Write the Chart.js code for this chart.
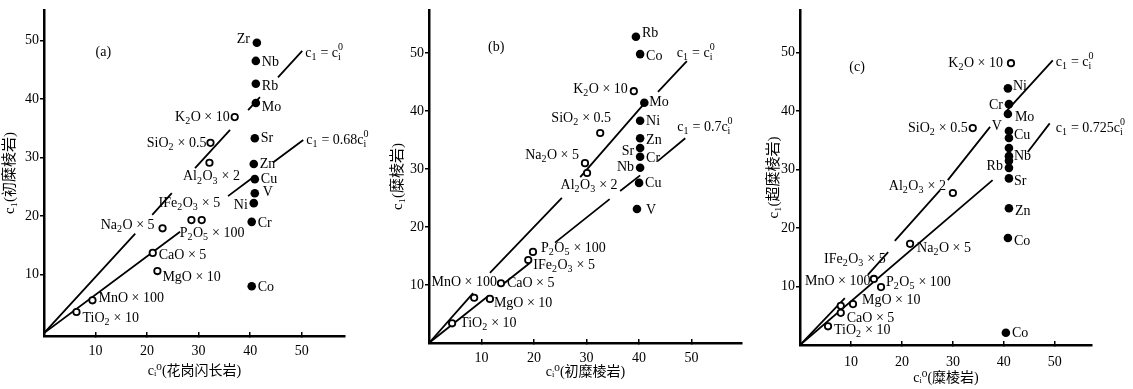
<!DOCTYPE html>
<html>
<head>
<meta charset="utf-8">
<script src="https://cdn.jsdelivr.net/npm/chart.js@4.4.1/dist/chart.umd.min.js"></script>
<style>
  html, body { margin: 0; padding: 0; background: #fff; }
  body { width: 1133px; height: 389px; position: relative; overflow: hidden; }
  .panel { position: absolute; top: 0; height: 389px; }
</style>
</head>
<body>
<div class="panel" style="left:0;width:380px"><canvas id="chartA"></canvas></div>
<div class="panel" style="left:380px;width:380px"><canvas id="chartB"></canvas></div>
<div class="panel" style="left:760px;width:373px"><canvas id="chartC"></canvas></div>
<script>
// tick labels (same on every panel)
const xTicks = [10, 20, 30, 40, 50];
const yTicks = [10, 20, 30, 40, 50];

// (a) granodiorite -> protomylonite
const aElemName = ['Zr', 'Nb', 'Rb', 'Mo', 'Sr', 'Zn', 'Cu', 'V', 'Ni', 'Cr', 'Co'];
const aElemX = [41.3, 41.1, 41.1, 41.1, 40.9, 40.7, 40.9, 40.9, 40.7, 40.3, 40.3];
const aElemY = [49.6, 46.5, 42.6, 39.3, 33.3, 28.9, 26.3, 23.9, 22.2, 19.0, 8.0];
const aOxName = ['K_2O × 10', 'SiO_2 × 0.5', 'Al_2O_3 × 2', 'IFe_2O_3 × 5', 'P_2O_5 × 100',
  'Na_2O × 5', 'CaO × 5', 'MgO × 10', 'MnO × 100', 'TiO_2 × 10'];
const aOxX = [37.0, 32.3, 32.1, 28.6, 30.6, 23.0, 21.1, 22.0, 9.4, 6.3];
const aOxY = [36.9, 32.5, 29.1, 19.3, 19.3, 17.9, 13.7, 10.6, 5.6, 3.6];
// reference lines, null = break where the printed line stops at a label
const aIsoX = [0, 17.7, null, 21.0, 24.8, null, 29.3, 36.1, null, 39.6, 41.9, null, 45.4, 50.1];
const aIsoY = [0, 17.0, null, 20.2, 23.9, null, 28.2, 34.7, null, 38.1, 40.3, null, 43.7, 48.2];
const aLossX = [0, 26.4, null, 35.7, 40.4, null, 44.5, 50.3];
const aLossY = [0, 17.3, null, 23.4, 26.5, null, 29.2, 33.0];

// (b) protomylonite -> mylonite
const bElemName = ['Rb', 'Co', 'Mo', 'Ni', 'Zn', 'Sr', 'Cr', 'Nb', 'Cu', 'V'];
const bElemX = [39.4, 40.2, 41.0, 40.2, 40.2, 40.2, 40.2, 40.2, 40.0, 39.6];
const bElemY = [52.8, 49.8, 41.4, 38.3, 35.3, 33.6, 32.1, 30.2, 27.6, 23.1];
const bOxName = ['K_2O × 10', 'SiO_2 × 0.5', 'Na_2O × 5', 'Al_2O_3 × 2', 'P_2O_5 × 100',
  'IFe_2O_3 × 5', 'CaO × 5', 'MnO × 100', 'MgO × 10', 'TiO_2 × 10'];
const bOxX = [39.0, 32.6, 29.7, 30.1, 19.8, 18.9, 13.7, 8.6, 11.6, 4.4];
const bOxY = [43.4, 36.2, 31.0, 29.3, 15.7, 14.3, 10.3, 7.8, 7.6, 3.4];
const bIsoX = [0, 8.4, null, 11.6, 25.3, null, 28.8, 41.1, null, 43.6, 49.1];
const bIsoY = [0, 8.6, null, 12.1, 25.0, null, 28.6, 41.4, null, 43.3, 48.6];
const bLossX = [0, 11.4, null, 14.2, 19.2, null, 24.0, 34.4, null, 36.4, 40.2, null, 43.6, 48.8];
const bLossY = [0, 8.2, null, 10.2, 13.8, null, 17.3, 24.8, null, 26.2, 28.9, null, 31.4, 35.3];

// (c) mylonite -> ultramylonite
const cElemName = ['Ni', 'Cr', 'Mo', 'V', 'Cu', '', 'Nb', '', 'Rb', 'Sr', 'Zn', 'Co', 'Co'];
const cElemX = [40.8, 41.0, 40.8, 41.0, 41.0, 41.0, 41.0, 41.0, 41.0, 41.0, 41.0, 40.8, 40.4];
const cElemY = [43.9, 41.2, 39.5, 36.6, 35.4, 33.7, 32.3, 31.5, 30.3, 28.5, 23.4, 18.3, 2.1];
const cOxName = ['K_2O × 10', 'SiO_2 × 0.5', 'Al_2O_3 × 2', 'Na_2O × 5', 'IFe_2O_3 × 5',
  'P_2O_5 × 100', 'MgO × 10', 'MnO × 100', 'CaO × 5', 'TiO_2 × 10'];
const cOxX = [41.4, 33.9, 30.0, 21.6, 14.5, 15.9, 10.4, 8.0, 8.0, 5.5];
const cOxY = [48.2, 37.1, 26.0, 17.3, 11.3, 9.9, 7.0, 6.7, 5.5, 3.2];
const cIsoX = [0, 8.8, null, 13.3, 17.3, null, 18.6, 27.5, null, 29.0, 37.3, null, 40.2, 49.6];
const cIsoY = [0, 8.0, null, 12.0, 15.9, null, 17.8, 26.5, null, 28.2, 37.3, null, 39.7, 48.7];
const cLossX = [0, 37.8, null, 44.7, 49.0];
const cLossY = [0, 28.2, null, 33.0, 37.9];

// label placement: [align, dx, dy] in pixels from the point
const aElemPos = [['end', -7, -3], ['start', 6, 1], ['start', 6, 3], ['start', 6, 4], ['start', 6, 0],
  ['start', 6, 0], ['start', 6, 0], ['start', 8, -1], ['end', -6, 2], ['start', 6, 1], ['start', 6, 1]];
const aOxPos = [['end', -5, 0], ['end', -4, 0], ['center', 2, 14], ['center', -2, -17], ['start', -22, 13],
  ['end', -8, -3], ['start', 6, 2], ['start', 5, 6], ['start', 6, -2], ['start', 6, 6]];
const bElemPos = [['start', 6, -3], ['start', 6, 2], ['start', 5, 0], ['start', 6, 1], ['start', 6, 2],
  ['end', -6, 3], ['start', 6, 2], ['end', -6, 0], ['start', 6, 0], ['start', 9, 1]];
const bOxPos = [['end', -6, -2], ['center', -19, -15], ['end', -6, -8], ['center', 2, 12], ['start', 8, -4],
  ['start', 5, 5], ['start', 6, 0], ['center', -10, -15], ['start', 4, 4], ['start', 8, 0]];
const cElemPos = [['start', 5, -2], ['end', -6, 1], ['start', 7, 3], ['end', -7, -5], ['start', 5, -3],
  ['start', 5, 0], ['start', 5, 0], ['start', 5, 0], ['end', -6, -2], ['start', 5, 3], ['start', 6, 3],
  ['start', 6, 3], ['start', 6, 1]];
const cOxPos = [['end', -8, 0], ['end', -5, 0], ['end', -7, -7], ['start', 7, 4], ['center', -19, -20],
  ['start', 5, -5], ['start', 9, -4], ['center', -3, -25], ['start', 6, 5], ['start', 6, 4]];

const SERIF = '"Liberation Serif", "DejaVu Serif", serif';
const TITLE_FONT = '"Liberation Serif", "Noto Sans CJK SC", "DejaVu Serif", serif';

const zip = (xs, ys) => xs.map((x, i) => ({ x, y: ys[i] }));

// split "K_2O" / "c^0_i" into plain runs and sub/superscript slots
function richSegs(str) {
  const segs = [];
  for (let i = 0; i < str.length; i++) {
    const ch = str[i];
    if ((ch === '_' || ch === '^') && i + 1 < str.length) {
      const key = ch === '_' ? 'sub' : 'sup';
      const c = str[++i];
      const last = segs[segs.length - 1];
      if (last && last.script && last[key] === undefined) last[key] = c;
      else segs.push({ script: true, [key]: c });
    } else {
      const last = segs[segs.length - 1];
      if (last && !last.script) last.text += ch;
      else segs.push({ text: ch });
    }
  }
  return segs;
}

function drawRich(ctx, str, x, y, align, size) {
  const big = size + 'px ' + SERIF;
  const small = Math.round(size * 0.68) + 'px ' + SERIF;
  const segs = richSegs(str);
  const widths = segs.map(s => {
    if (s.script) {
      ctx.font = small;
      return Math.max(s.sub ? ctx.measureText(s.sub).width : 0, s.sup ? ctx.measureText(s.sup).width : 0) + 0.5;
    }
    ctx.font = big;
    return ctx.measureText(s.text).width;
  });
  const total = widths.reduce((a, b) => a + b, 0);
  let cx = align === 'end' ? x - total : align === 'center' ? x - total / 2 : x;
  ctx.textAlign = 'left';
  ctx.textBaseline = 'middle';
  ctx.fillStyle = '#000';
  segs.forEach((s, k) => {
    if (s.script) {
      ctx.font = small;
      if (s.sub) ctx.fillText(s.sub, cx, y + size * 0.3);
      if (s.sup) ctx.fillText(s.sup, cx, y - size * 0.4);
    } else {
      ctx.font = big;
      ctx.fillText(s.text, cx, y);
    }
    cx += widths[k];
  });
}

const pointLabels = {
  id: 'pointLabels',
  afterDatasetsDraw(chart, args, opts) {
    const ctx = chart.ctx;
    ctx.save();
    chart.data.datasets.forEach((ds, di) => {
      const meta = chart.getDatasetMeta(di);
      if (ds.names) {
        meta.data.forEach((pt, i) => {
          if (!ds.names[i]) return;
          const [align, dx, dy] = ds.namePos[i];
          drawRich(ctx, ds.names[i], pt.x + dx, pt.y + dy, align, 14);
        });
      }
      if (ds.lineLabel) {
        const pt = meta.data[meta.data.length - 1];
        const [align, dx, dy] = ds.lineLabelPos;
        drawRich(ctx, ds.lineLabel, pt.x + dx, pt.y + dy, align, 14);
      }
    });
    const sx = chart.scales.x, sy = chart.scales.y;
    ctx.font = '14px ' + SERIF;
    ctx.textAlign = 'center';
    ctx.textBaseline = 'middle';
    ctx.fillText(opts.tag, sx.getPixelForValue(opts.tagAt[0]), sy.getPixelForValue(opts.tagAt[1]));
    ctx.restore();
  }
};

function makePanel(id, p) {
  new Chart(document.getElementById(id), {
    type: 'scatter',
    data: {
      datasets: [
        {
          label: 'elements', data: zip(p.elemX, p.elemY), names: p.elemName, namePos: p.elemPos,
          pointRadius: 4.3, backgroundColor: '#000', borderWidth: 0
        },
        {
          label: 'oxides', data: zip(p.oxX, p.oxY), names: p.oxName, namePos: p.oxPos,
          pointRadius: 3.2, backgroundColor: '#fff', borderColor: '#000', borderWidth: 1.8
        },
        {
          label: 'isocon', data: zip(p.isoX, p.isoY), showLine: true, spanGaps: false, pointRadius: 0,
          borderColor: '#000', borderWidth: 1.8, lineLabel: 'c_1 = c^0_i', lineLabelPos: p.isoLabelPos
        },
        {
          label: 'loss', data: zip(p.lossX, p.lossY), showLine: true, spanGaps: false, pointRadius: 0,
          borderColor: '#000', borderWidth: 1.8, lineLabel: p.lossText, lineLabelPos: p.lossLabelPos
        }
      ]
    },
    options: {
      responsive: true,
      maintainAspectRatio: false,
      animation: false,
      events: [],
      layout: { autoPadding: false, padding: p.padding },
      plugins: {
        legend: { display: false },
        tooltip: { enabled: false },
        pointLabels: { tag: p.tag, tagAt: p.tagAt }
      },
      scales: {
        x: {
          type: 'linear', min: 0, max: p.xMax,
          afterBuildTicks: s => { s.ticks = xTicks.map(v => ({ value: v })); },
          afterFit: s => { s.height = p.xHeight; },
          border: { color: '#000', width: 2.5 },
          // tick marks point up into the plot, as in the printed figure
          grid: { drawOnChartArea: false, color: '#000', tickLength: -4, lineWidth: 1.5 },
          ticks: { color: '#000', padding: p.xTickPad + 8, font: { family: SERIF, size: 14 } },
          title: {
            display: true, text: p.xTitle, color: '#000',
            font: { family: TITLE_FONT, size: 14 }, padding: { top: 0, bottom: p.xTitlePad }
          }
        },
        y: {
          type: 'linear', min: p.yMin, max: p.yMax,
          afterBuildTicks: s => { s.ticks = yTicks.map(v => ({ value: v })); },
          afterFit: s => { s.width = p.yWidth; },
          border: { color: '#000', width: 2.5 },
          grid: { drawOnChartArea: false, color: '#000', tickLength: 4, lineWidth: 1.5 },
          ticks: { color: '#000', padding: 1, font: { family: SERIF, size: 14 } },
          title: {
            display: true, text: p.yTitle, color: '#000',
            font: { family: TITLE_FONT, size: 15 }, padding: { top: p.yTitlePad, bottom: 0 }
          }
        }
      }
    },
    plugins: [pointLabels]
  });
}

makePanel('chartA', {
  elemName: aElemName, elemX: aElemX, elemY: aElemY, elemPos: aElemPos,
  oxName: aOxName, oxX: aOxX, oxY: aOxY, oxPos: aOxPos,
  isoX: aIsoX, isoY: aIsoY, isoLabelPos: ['start', 3, 2],
  lossX: aLossX, lossY: aLossY, lossText: 'c_1 = 0.68c^0_i', lossLabelPos: ['start', 3, 0],
  padding: { left: 0, top: 10, right: 35, bottom: 0 },
  xHeight: 53, yWidth: 44, xMax: 58.4, yMin: -0.5, yMax: 55.2,
  xTickPad: 3, xTitlePad: 9, yTitlePad: 1,
  xTitle: 'cᵢ⁰(花岗闪长岩)', yTitle: 'c₁(初糜棱岩)',
  tag: '(a)', tagAt: [11.5, 47.9]
});

makePanel('chartB', {
  elemName: bElemName, elemX: bElemX, elemY: bElemY, elemPos: bElemPos,
  oxName: bOxName, oxX: bOxX, oxY: bOxY, oxPos: bOxPos,
  isoX: bIsoX, isoY: bIsoY, isoLabelPos: ['start', -10, -8],
  lossX: bLossX, lossY: bLossY, lossText: 'c_1 = 0.7c^0_i', lossLabelPos: ['start', -8, -11],
  padding: { left: 0, top: 10, right: 18, bottom: 0 },
  xHeight: 46, yWidth: 49, xMax: 59.6, yMin: 0, yMax: 57.4,
  xTickPad: 3, xTitlePad: 8, yTitlePad: 9,
  xTitle: 'cᵢ⁰(初糜棱岩)', yTitle: 'c₁(糜棱岩)',
  tag: '(b)', tagAt: [12.8, 51]
});

makePanel('chartC', {
  elemName: cElemName, elemX: cElemX, elemY: cElemY, elemPos: cElemPos,
  oxName: cOxName, oxX: cOxX, oxY: cOxY, oxPos: cOxPos,
  isoX: cIsoX, isoY: cIsoY, isoLabelPos: ['start', 3, 2],
  lossX: cLossX, lossY: cLossY, lossText: 'c_1 = 0.725c^0_i', lossLabelPos: ['start', 6, 5],
  padding: { left: 0, top: 10, right: 41, bottom: 0 },
  xHeight: 44, yWidth: 40, xMax: 57.3, yMin: 0, yMax: 57.3,
  xTickPad: 5, xTitlePad: 2, yTitlePad: 5,
  xTitle: 'cᵢ⁰(糜棱岩)', yTitle: 'c₁(超糜棱岩)',
  tag: '(c)', tagAt: [11.2, 47.5]
});
</script>
</body>
</html>
